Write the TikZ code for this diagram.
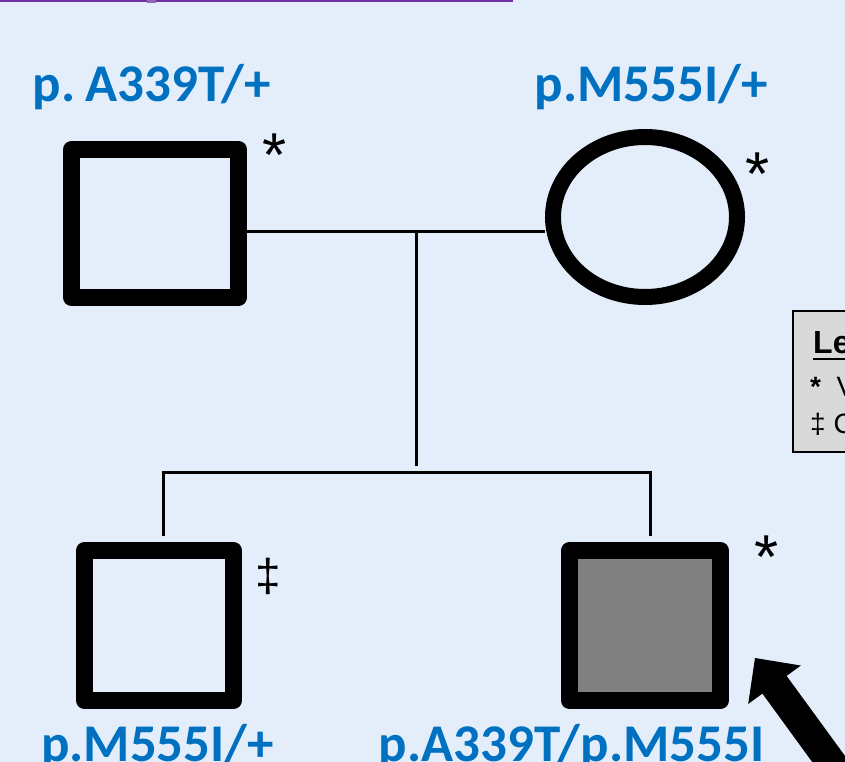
\documentclass[tikz,border=0pt]{standalone}
\usepackage{fontspec}
\setmainfont{Carlito}
\newfontfamily\arialfont{Liberation Sans}
\usetikzlibrary{shapes.geometric}

\definecolor{bgblue}{RGB}{227,238,250}
\definecolor{labelblue}{RGB}{0,112,192}
\definecolor{rulepurple}{RGB}{112,48,160}
\definecolor{legendgray}{RGB}{217,217,217}
\definecolor{affected}{RGB}{128,128,128}

\begin{document}
\begin{tikzpicture}[x=1pt,y=-1pt,
  male/.style={rectangle, draw=black, line width=17pt, line join=round, inner sep=0pt},
  female/.style={ellipse, draw=black, line width=16pt, inner sep=0pt},
  link/.style={line width=3pt},
  genotype/.style={text=labelblue, font=\fontsize{53}{60}\selectfont\bfseries, inner sep=0pt, anchor=base},
  annot/.style={font=\arialfont\fontsize{62}{70}\selectfont, inner sep=0pt, anchor=base},
  legtext/.style={font=\arialfont\fontsize{28}{32}\selectfont, inner sep=0pt, anchor=base west}]

% canvas
\path[use as bounding box] (0,0) rectangle (845,762);
\clip (0,0) rectangle (845,762);
\fill[bgblue] (0,0) rectangle (845,762);

% rule along the top edge
\fill[rulepurple] (0,0) rectangle (513,2);
\fill[rulepurple!75!white] (147,0) rectangle (156,3);

% parents
\node[male, minimum width=167pt, minimum height=148pt] (father) at (155,223.5) {};
\node[female, minimum width=184pt, minimum height=160pt] (mother) at (645,217) {};

% children
\node[male, minimum width=149pt, minimum height=150pt] (son) at (159,625.5) {};
\node[male, fill=affected, minimum width=151pt, minimum height=150pt] (proband) at (645,625.5) {};

% mating line, line of descent and sibship line
\coordinate (descTop) at (416,231);
\coordinate (descEnd) at (416,466);
\coordinate (sibL) at (163,472);
\coordinate (sibR) at (650,472);
\coordinate (dropL) at (163,536);
\coordinate (dropR) at (650,536);
\draw[link] (father.east |- descTop) -- (mother.west |- descTop);
\draw[link] (descTop) -- (descEnd);
\draw[link] (dropL) -- (sibL) -- (sibR) -- (dropR);

% genotypes
\node[genotype] (gFather) at (151.5,102) {p.\kern0.19em A339T/+};
\node[genotype] (gMother) at (651,102) {p.M555I/+};
\node[genotype] (gSon) at (157.5,761) {p.M555I/+};
\node[genotype] (gProband) at (571.5,761) {p.A339T/p.M555I};

% annotation marks
\node[annot] (aFather) at (275,177) {*};
\node[annot] (aMother) at (758,196) {*};
\node[annot] (aProband) at (767,578) {*};
\node[annot, font=\arialfont\fontsize{46}{50}\selectfont] (aSon) at (268,591) {‡};

% proband arrow
\coordinate (tip) at (755,658);
\fill[black] (tip) -- (800.8,665.5) -- (786.6,675.9) -- (887,813.5)
  -- (862.7,831.3) -- (762.4,693.6) -- (748.2,703.9) -- cycle;

% legend
\node[draw=black, line width=2pt, fill=legendgray, anchor=north west,
  minimum width=120pt, minimum height=141pt, inner sep=0pt] (legend) at (792,310) {};
\node[font=\arialfont\bfseries\fontsize{32}{36}\selectfont, inner sep=0pt, anchor=base west]
  (legTitle) at (813,353) {Legend};
\draw[line width=2.5pt] ([yshift=-6pt]legTitle.base west) -- ([yshift=-6pt]legTitle.base east);
\node[legtext] (legRow1) at (810,396) {\textbf{*}~~V};
\node[legtext] (legRow2) at (810,433) {‡ C};
\end{tikzpicture}
\end{document}
